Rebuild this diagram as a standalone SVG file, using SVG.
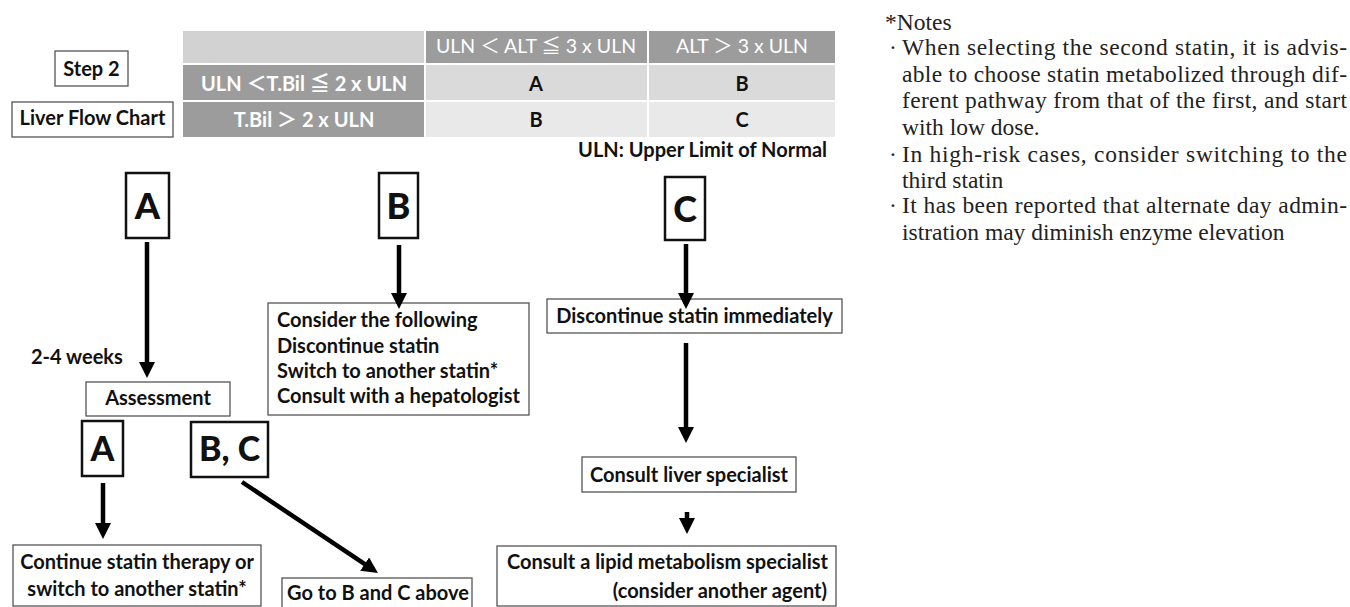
<svg xmlns="http://www.w3.org/2000/svg" width="1350" height="607" viewBox="0 0 1350 607">
<style>
.t{font-family:Lato,'Liberation Sans','Noto Sans CJK JP',sans-serif;font-weight:700;font-size:20px;fill:#111}
.c{text-anchor:middle}
.e{text-anchor:end}
.big{font-size:36px;font-weight:900}
.mid{font-size:34px;font-weight:900}
.box{fill:#fff;stroke:#555;stroke-width:1.3}
.lbox{fill:#fff;stroke:#111;stroke-width:2.5}
.dk{fill:#9c9c9c}
.hl{fill:#d2d2d2}
.r1{fill:#dadada}
.r2{fill:#e9e9e9}
.th{font-family:Lato,'Noto Sans CJK JP',sans-serif;font-size:19.5px;fill:#fff;text-anchor:middle}
.rh{font-family:Lato,'Noto Sans CJK JP',sans-serif;font-weight:700;font-size:20px;fill:#fff;text-anchor:middle}
.conn{stroke:#000;stroke-width:4.5;fill:none;marker-end:url(#ah)}
.note{font-family:'Liberation Serif',serif;font-size:23.5px;fill:#222}
</style>
<defs>
<marker id="ah" markerUnits="userSpaceOnUse" markerWidth="16" markerHeight="16" viewBox="0 0 16 16" refX="11" refY="8" orient="auto">
<path d="M0,0 L16,8 L0,16 z" fill="#000"/>
</marker>
</defs>
<rect width="1350" height="607" fill="#fff"/>

<g id="table">
<rect class="hl" x="183" y="31" width="241" height="32"/>
<rect class="dk" x="426" y="31" width="221" height="32"/>
<rect class="dk" x="649" y="31" width="186" height="32"/>
<rect class="dk" x="183" y="65" width="241" height="35"/>
<rect class="r1" x="426" y="65" width="221" height="35"/>
<rect class="r1" x="649" y="65" width="186" height="35"/>
<rect class="dk" x="183" y="102" width="241" height="35"/>
<rect class="r2" x="426" y="102" width="221" height="35"/>
<rect class="r2" x="649" y="102" width="186" height="35"/>
<text class="th" x="536" y="53">ULN ＜ ALT ≦ 3 x ULN</text>
<text class="th" x="742" y="53">ALT ＞ 3 x ULN</text>
<text class="rh" x="304" y="91">ULN ＜T.Bil ≦ 2 x ULN</text>
<text class="rh" x="304" y="127">T.Bil ＞ 2 x ULN</text>
<text class="t c" x="536" y="91">A</text>
<text class="t c" x="742" y="91">B</text>
<text class="t c" x="536" y="127">B</text>
<text class="t c" x="742" y="127">C</text>
</g>
<text class="t e" x="827" y="157">ULN: Upper Limit of Normal</text>

<g id="step2"><rect class="box" x="55" y="51" width="73" height="35"/><text class="t c" x="91.5" y="76">Step 2</text></g>
<g id="title"><rect class="box" x="12" y="102" width="161" height="35"/><text class="t c" x="92.5" y="125">Liver Flow Chart</text></g>

<g id="nodeA"><rect class="lbox" x="126" y="173" width="43" height="65"/><text class="t c big" x="147.5" y="219">A</text></g>
<g id="nodeB"><rect class="lbox" x="379" y="173" width="39" height="65"/><text class="t c big" x="398.5" y="219">B</text></g>
<g id="nodeC"><rect class="lbox" x="665" y="177" width="40" height="63"/><text class="t c big" x="685" y="222">C</text></g>

<text class="t" x="31" y="364">2-4 weeks</text>

<g id="assessment"><rect class="box" x="86" y="382" width="144" height="34"/><text class="t c" x="158" y="405">Assessment</text></g>
<g id="nodeA2"><rect class="lbox" x="82" y="421" width="41" height="55"/><text class="t c mid" x="102.5" y="461">A</text></g>
<g id="nodeBC"><rect class="lbox" x="191" y="422" width="77" height="55"/><text class="t c mid" x="229.5" y="461">B, C</text></g>

<g id="optionsB"><rect class="box" x="268" y="303" width="261" height="112"/>
<text class="t" x="277" y="327">Consider the following</text>
<text class="t" x="277" y="353">Discontinue statin</text>
<text class="t" x="277" y="378">Switch to another statin*</text>
<text class="t" x="277" y="403">Consult with a hepatologist</text></g>

<g id="discontinue"><rect class="box" x="547" y="299" width="295" height="34"/><text class="t c" x="694.5" y="323">Discontinue statin immediately</text></g>
<g id="liver"><rect class="box" x="582" y="457" width="214" height="35"/><text class="t c" x="689" y="482">Consult liver specialist</text></g>
<g id="lipid"><rect class="box" x="497" y="546" width="339" height="60"/>
<text class="t" x="507" y="569">Consult a lipid metabolism specialist</text>
<text class="t e" x="827" y="598">(consider another agent)</text></g>

<g id="continue"><rect class="box" x="13" y="545" width="248" height="61"/>
<text class="t c" x="137" y="569">Continue statin therapy or</text>
<text class="t c" x="137" y="596">switch to another statin*</text></g>
<g id="goto"><rect class="box" x="282" y="578" width="190" height="34"/><text class="t c" x="378" y="600">Go to B and C above</text></g>

<g id="connectors">
<line class="conn" x1="147" y1="242" x2="147" y2="373"/>
<line class="conn" x1="399" y1="245" x2="399" y2="304"/>
<line class="conn" x1="686" y1="244" x2="686" y2="304"/>
<line class="conn" x1="686" y1="343" x2="686" y2="438"/>
<line class="conn" x1="687" y1="512" x2="687" y2="529"/>
<line class="conn" x1="103" y1="483" x2="103" y2="534"/>
<line class="conn" x1="242" y1="482" x2="373.8" y2="570.2"/>
</g>

<g id="notes">
<text class="note" x="885" y="30">*Notes</text>
<text class="note" x="889" y="55">·</text>
<text class="note" x="902" y="55" textLength="445" lengthAdjust="spacing">When selecting the second statin, it is advis-</text>
<text class="note" x="902" y="82" textLength="445" lengthAdjust="spacing">able to choose statin metabolized through dif-</text>
<text class="note" x="902" y="108" textLength="445" lengthAdjust="spacing">ferent pathway from that of the first, and start</text>
<text class="note" x="902" y="135">with low dose.</text>
<text class="note" x="889" y="162">·</text>
<text class="note" x="902" y="162" textLength="445" lengthAdjust="spacing">In high-risk cases, consider switching to the</text>
<text class="note" x="902" y="188">third statin</text>
<text class="note" x="889" y="213">·</text>
<text class="note" x="902" y="213" textLength="445" lengthAdjust="spacing">It has been reported that alternate day admin-</text>
<text class="note" x="902" y="240">istration may diminish enzyme elevation</text>
</g>
</svg>
